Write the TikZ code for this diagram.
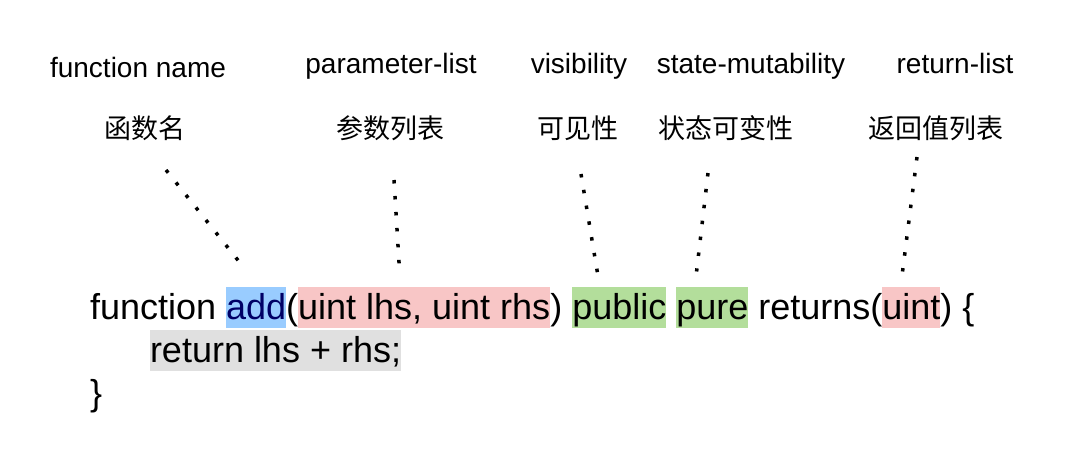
\documentclass[tikz,border=0pt]{standalone}
\usepackage{fontspec}
\setmainfont{Liberation Sans}
\newfontfamily\cjk{Noto Sans CJK SC}
\usepackage{xcolor}
\usepackage{tikz}
\usetikzlibrary{positioning}
\definecolor{NameBlue}{HTML}{99CCFF}
\definecolor{NameInk}{HTML}{000066}
\definecolor{ParamPink}{HTML}{F8C6C6}
\definecolor{ModGreen}{HTML}{B3DE9B}
\definecolor{BodyGray}{HTML}{E0E0E0}

\begin{document}
\begin{tikzpicture}[x=1pt,y=-1pt,
  code/.style={inner sep=0pt,outer sep=0pt,anchor=base west,text height=32pt,text depth=9pt,font=\fontsize{36}{43}\selectfont},
  lbl/.style={anchor=base,inner sep=0pt,font=\fontsize{28}{34}\selectfont},
  zh/.style={anchor=base,inner sep=0pt,font=\cjk\fontsize{27}{32}\selectfont},
  dots/.style={line width=3.5pt,dash pattern=on 3.5pt off 12.5pt,shorten >=-3.5pt}]
  \useasboundingbox (0,0) rectangle (1072,450);
  % labels
  \node[lbl] (en-name) at (138,77){function name};
  \node[lbl] (en-param) at (391,73){parameter-list};
  \node[lbl] (en-vis) at (579,73){visibility};
  \node[lbl] (en-mut) at (751,73){state-mutability};
  \node[lbl] (en-ret) at (955,73){return-list};
  \node[zh] (zh-name) at (145,138){函数名};
  \node[zh] (zh-param) at (390,138){参数列表};
  \node[zh] (zh-vis) at (578,138){可见性};
  \node[zh] (zh-mut) at (726,138){状态可变性};
  \node[zh] (zh-ret) at (936,138){返回值列表};
  % code
  \node[code] (kw) at (90,319){function\ \null};
  \node[code,fill=NameBlue,text=NameInk] (fname) at (kw.base east){add};
  \node[code] (lpar) at (fname.base east){(};
  \node[code,fill=ParamPink] (params) at (lpar.base east){uint lhs, uint rhs};
  \node[code] (rpar) at (params.base east){)\ \null};
  \node[code,fill=ModGreen] (vis) at (rpar.base east){public};
  \node[code] (gap) at (vis.base east){\null\ \null};
  \node[code,fill=ModGreen] (mut) at (gap.base east){pure};
  \node[code] (retkw) at (mut.base east){\ returns(};
  \node[code,fill=ParamPink] (rets) at (retkw.base east){uint};
  \node[code] (open) at (rets.base east){)\ \{};
  \node[code,fill=BodyGray] (body) at (150,362){return lhs + rhs;};
  \node[code] (close) at (90,405){\}};
  % pointers
  \coordinate (t1) at (166,170); \coordinate (b1) at (237,259);
  \coordinate (t2) at (394,180); \coordinate (b2) at (399,262);
  \coordinate (t3) at (581,174); \coordinate (b3) at (597,270);
  \coordinate (t4) at (708,173); \coordinate (b4) at (697,268);
  \coordinate (t5) at (917,157); \coordinate (b5) at (903,268);
  \draw[dots] (t1) -- (b1);
  \draw[dots] (t2) -- (b2);
  \draw[dots] (t3) -- (b3);
  \draw[dots] (t4) -- (b4);
  \draw[dots] (t5) -- (b5);
\end{tikzpicture}
\end{document}
